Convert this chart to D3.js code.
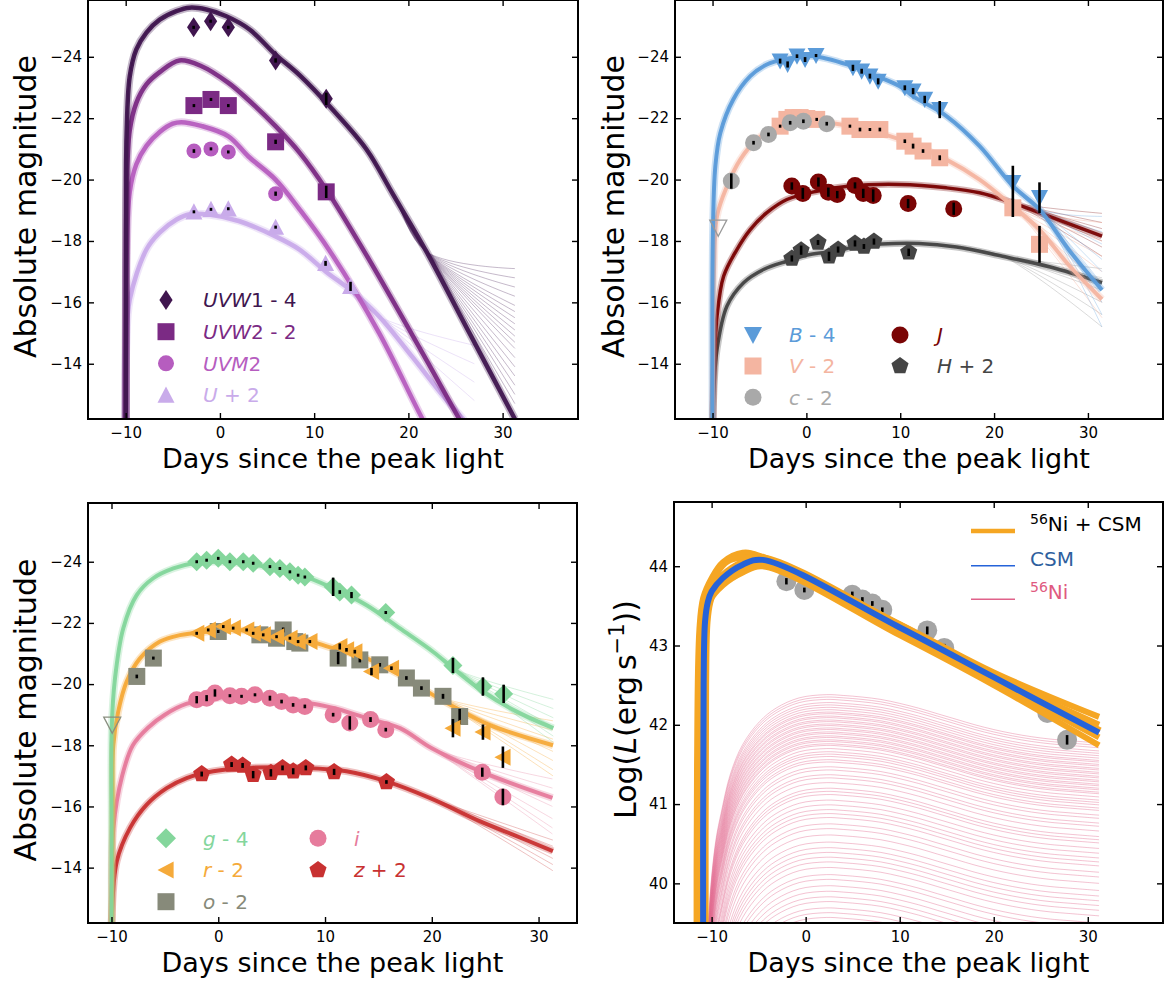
<!DOCTYPE html>
<html><head><meta charset="utf-8">
<script src="https://cdn.jsdelivr.net/npm/d3@7"></script>
<style>body{margin:0;background:#fff}svg{display:block}text{font-family:"DejaVu Sans",sans-serif}</style>
</head><body><svg id="c" width="1169" height="985"></svg>
<script>
// ---------------- DATA ----------------
const magTicks = [-24, -22, -20, -18, -16, -14];
const dayTicks = [-10, 0, 10, 20, 30];
const lumTicks = [40, 41, 42, 43, 44];

// Panel 1 : UV bands  [day, mag, err]
const uvw1Points = [[-2.79,-24.96,0.05],[-0.99,-25.16,0.05],[0.89,-24.96,0.05],[5.91,-23.88,0.07],[11.28,-22.63,0.2]];
const uvw2Points = [[-2.76,-22.41,0.05],[-0.95,-22.61,0.05],[0.89,-22.41,0.05],[5.91,-21.23,0.07],[11.28,-19.6,0.2]];
const uvm2Points = [[-2.76,-20.93,0.06],[-0.95,-21.0,0.05],[0.89,-20.9,0.05],[5.91,-19.54,0.07]];
const uPoints    = [[-2.76,-18.95,0.04],[-0.95,-19.03,0.04],[0.89,-19.05,0.04],[5.91,-18.45,0.05],[11.21,-17.27,0.08],[13.86,-16.52,0.15]];
const uvw1Model = [[-10,-10.5],[-9.95,-19.5],[-9.9,-21.5],[-9.57,-23.36],[-8.87,-24.24],[-7.8,-24.79],[-6.39,-25.21],[-4.62,-25.49],[-3.21,-25.6],[-1.44,-25.54],[0.68,-25.32],[3.15,-24.89],[5.9,-24.07],[8.45,-23.4],[11.95,-22.28],[15.56,-20.98],[18.31,-19.55],[21.92,-17.65],[26.48,-15.0],[31.3,-12.2]];
const uvw2Model = [[-10,-10.5],[-9.95,-17.5],[-9.9,-19.6],[-9.57,-21.6],[-8.87,-22.5],[-7.8,-23.1],[-6.39,-23.5],[-4.3,-23.88],[-2,-23.7],[0.9,-23.15],[3,-22.6],[5.9,-21.74],[8.45,-20.88],[11.28,-19.68],[15.2,-17.72],[20.3,-15.0],[25.4,-12.2],[27,-11.3]];
const uvm2Model = [[-10,-10.5],[-9.95,-15.5],[-9.9,-17.5],[-9.57,-19.6],[-8.87,-20.5],[-7.8,-21.1],[-6.39,-21.55],[-5,-21.82],[-4.1,-21.87],[-2,-21.75],[0.9,-21.41],[3,-20.76],[5.9,-20.0],[8.45,-19.03],[11.6,-17.7],[16.9,-15.0],[21.5,-12.2],[23,-11.4]];
const uModel    = [[-10,-10.5],[-9.95,-14.5],[-9.57,-16.09],[-7.8,-17.72],[-6.4,-18.27],[-4.6,-18.7],[-3.2,-18.87],[-1,-18.85],[2,-18.65],[5.9,-18.15],[8.45,-17.72],[11.25,-17.0],[14.07,-16.35],[16.9,-15.54],[20.4,-14.23],[24,-12.83],[25.8,-12.2],[27,-11.7]];
const uvw1FanEnds = [-17.1,-16.8,-16.5,-16.2,-15.9,-15.7,-15.5,-15.3,-15.1,-14.9,-14.7,-14.5,-14.2,-13.9,-13.6,-13.3,-13.0,-12.7];
const uFanEnds    = [-14.6,-14.0,-13.4,-12.8];

// Panel 2 : optical / NIR
const bPoints = [[-2.8,-23.86,0.08],[-2.0,-23.75,0.1],[-1.0,-24.02,0.06],[-0.14,-23.91,0.08],[1.03,-24.04,0.05],[4.96,-23.64,0.1],[5.89,-23.53,0.08],[6.77,-23.37,0.08],[7.65,-23.2,0.1],[10.49,-22.99,0.08],[11.37,-22.88,0.1],[12.61,-22.61,0.12],[14.21,-22.28,0.28],[22.0,-19.9,0.55],[24.84,-19.41,0.5]];
const vPoints = [[-2.8,-21.74,0.05],[-2.08,-21.96,0.05],[-1.41,-22.02,0.05],[-0.67,-22.02,0.05],[0.04,-21.99,0.05],[1.1,-21.96,0.05],[4.64,-21.74,0.05],[5.71,-21.63,0.06],[6.77,-21.63,0.05],[7.83,-21.63,0.06],[10.49,-21.25,0.06],[11.37,-21.09,0.08],[12.43,-20.93,0.06],[14.21,-20.71,0.08],[22.0,-19.08,0.3],[24.84,-17.89,0.6]];
const cPoints = [[-8.0,-19.95,0.25],[-5.63,-21.2,0.06],[-4.04,-21.47,0.06],[-1.73,-21.85,0.06],[-0.32,-21.9,0.06],[2.17,-21.82,0.06]];
const cLimits = [[-9.39,-18.43]];
const jPoints = [[-1.55,-19.79,0.12],[-0.38,-19.55,0.18],[1.28,-19.92,0.15],[2.34,-19.59,0.15],[3.29,-19.51,0.12],[5.18,-19.81,0.1],[6.06,-19.55,0.15],[7.12,-19.48,0.2],[10.84,-19.22,0.15],[15.7,-19.05,0.2]];
const hPoints = [[-1.55,-17.43,0.1],[-0.56,-17.7,0.15],[1.24,-17.95,0.08],[2.41,-17.5,0.15],[3.38,-17.72,0.1],[5.18,-17.92,0.1],[6.13,-17.82,0.08],[7.2,-17.98,0.1],[10.9,-17.63,0.12]];
const bModel = [[-10,-11],[-9.95,-18.5],[-9.7,-20.44],[-9.17,-21.52],[-7.79,-22.61],[-5.98,-23.37],[-4.21,-23.75],[-2.48,-23.91],[0.71,-24.02],[4.64,-23.72],[7.83,-23.33],[9.95,-23.04],[11.34,-22.72],[14.92,-22.07],[18.46,-21.09],[22.0,-19.79],[24.84,-19.03],[28,-17.7],[31.5,-16.4]];
const vModel = [[-10,-11],[-9.95,-14.0],[-9.85,-17.0],[-9.52,-18.81],[-8.46,-19.78],[-7.05,-20.65],[-5.27,-21.31],[-3.15,-21.69],[-0.67,-21.87],[0.71,-21.9],[4.64,-21.74],[9.96,-21.31],[14.92,-20.65],[18.46,-20.0],[22.0,-19.13],[24.84,-18.37],[28,-17.2],[31.5,-16.1]];
const jModel = [[-10,-11],[-9.95,-12.5],[-9.8,-14.2],[-9.52,-15.55],[-8.82,-16.85],[-7.4,-17.72],[-5.98,-18.37],[-4.21,-18.92],[-2.08,-19.35],[1.1,-19.62],[4.64,-19.79],[9.96,-19.84],[14.92,-19.73],[18.46,-19.57],[22.0,-19.24],[24.84,-18.92],[31.5,-18.16]];
const hModel = [[-10,-11],[-9.9,-12.8],[-9.52,-14.47],[-8.46,-15.88],[-6.69,-16.64],[-4.57,-17.07],[-2.08,-17.34],[0.39,-17.56],[3.23,-17.67],[5,-17.8],[8,-17.9],[12,-17.92],[16,-17.8],[20.9,-17.5],[26,-17.15],[31.5,-16.64]];
const bFanEnds = [-18.8,-18.3,-17.9,-17.4,-17.0,-16.6,-16.0,-15.6,-15.2];
const vFanEnds = [-18.6,-18.0,-17.5,-17.0,-16.5,-16.0,-15.5];
const jFanEnds = [-18.9,-18.6,-18.4,-18.0,-17.8,-17.5];
const hFanEnds = [-17.1,-16.8,-16.4,-16.0,-15.6,-15.2];

// Panel 3
const gPoints = [[-2.02,-24.0,0.03],[-1.09,-24.05,0.03],[0,-24.11,0.04],[1.09,-24.0,0.03],[2.34,-24.0,0.03],[3.27,-23.95,0.03],[4.84,-23.84,0.03],[5.77,-23.78,0.03],[6.71,-23.67,0.04],[7.48,-23.56,0.04],[8.11,-23.5,0.04],[10.76,-23.18,0.3],[11.38,-23.01,0.06],[12.48,-22.91,0.1],[15.69,-22.34,0.05],[21.98,-20.61,0.25],[24.79,-19.92,0.3],[26.73,-19.68,0.3]];
const rPoints = [[-2.02,-21.66,0.04],[-0.94,-21.77,0.04],[0.47,-21.88,0.04],[1.4,-21.83,0.04],[2.66,-21.77,0.04],[3.27,-21.66,0.04],[4.21,-21.61,0.04],[5.46,-21.55,0.04],[6.71,-21.5,0.05],[7.48,-21.39,0.05],[8.58,-21.39,0.05],[11.38,-21.23,0.1],[12.01,-21.12,0.06],[12.79,-21.06,0.06],[14.35,-20.41,0.12],[16.22,-20.52,0.06],[21.98,-18.56,0.3],[24.79,-18.43,0.25],[26.66,-17.61,0.35]];
const oPoints = [[-7.63,-20.25,0.06],[-6.08,-20.85,0.05],[0,-21.72,0.05],[3.9,-21.61,0.05],[5.46,-21.5,0.06],[6.08,-21.77,0.08],[7.17,-21.39,0.06],[7.64,-21.34,0.06],[11.23,-20.85,0.2],[13.26,-20.79,0.08],[15.13,-20.63,0.06],[17.62,-20.2,0.06],[19.03,-19.87,0.06],[21.05,-19.6,0.08],[22.61,-18.94,0.25]];
const iPoints = [[-2.02,-19.49,0.12],[-1.09,-19.54,0.1],[-0.31,-19.71,0.12],[1.09,-19.62,0.05],[2.18,-19.6,0.05],[3.44,-19.65,0.05],[4.84,-19.54,0.08],[5.93,-19.43,0.06],[7.01,-19.32,0.06],[8.11,-19.27,0.06],[10.76,-19.0,0.06],[12.32,-18.73,0.22],[14.26,-18.84,0.08],[15.69,-18.51,0.06],[24.73,-17.12,0.15],[26.66,-16.31,0.27]];
const zPoints = [[-1.55,-17.06,0.08],[1.25,-17.37,0.08],[2.28,-17.34,0.08],[3.27,-17.04,0.12],[4.93,-17.1,0.12],[6.02,-17.26,0.08],[7.02,-17.15,0.1],[8.2,-17.26,0.08],[10.85,-17.13,0.1],[15.75,-16.8,0.06]];
const oLimits = [[-9.93,-18.67]];
const gModel = [[-10,-11],[-9.99,-15.0],[-9.98,-18.56],[-9.67,-20.19],[-8.9,-21.82],[-7.64,-22.91],[-6.09,-23.46],[-4.21,-23.78],[-2.34,-23.95],[-0.15,-24.0],[3,-23.92],[7.65,-23.57],[10.77,-23.13],[13.9,-22.58],[17.02,-21.82],[20.14,-21.05],[22.0,-20.52],[24.82,-19.75],[27.95,-19.1],[31.38,-18.56]];
const rModel = [[-10,-11],[-9.9,-16.0],[-9.83,-18.0],[-9.37,-19.1],[-8.58,-20.08],[-7.33,-20.84],[-5.46,-21.39],[-3.59,-21.6],[-1.09,-21.71],[1.4,-21.77],[6.09,-21.6],[7.65,-21.5],[10.77,-21.17],[13.9,-20.84],[17.02,-20.3],[20.14,-19.64],[22.33,-19.21],[25.45,-18.66],[31.35,-18.0]];
const iModel = [[-10,-11],[-9.97,-12.6],[-9.82,-15.3],[-9,-17.0],[-8,-18.0],[-6.5,-18.6],[-5,-19.0],[-3,-19.35],[0,-19.55],[2,-19.6],[5,-19.55],[7.65,-19.43],[10.77,-19.22],[13.9,-18.89],[17.02,-18.56],[20,-17.9],[24.73,-17.12],[31.3,-16.28]];
const zModel = [[-10,-11],[-9.97,-12.4],[-9.5,-14.21],[-8.26,-15.3],[-6.7,-16.06],[-4.83,-16.6],[-2.96,-16.93],[-0.47,-17.15],[2.66,-17.26],[8.27,-17.26],[12.01,-17.15],[15.75,-16.82],[19.8,-16.28],[24.48,-15.52],[27.6,-15.08],[31.34,-14.54]];
const gFanEnds = [-19.5,-19.2,-18.9,-18.6,-18.3,-18.1];
const rFanEnds = [-18.8,-18.5,-18.2,-17.8,-17.5,-17.2,-17.0];
const iFanEnds = [-16.9,-16.6,-16.0,-15.6,-15.3,-15.1];
const zFanEnds = [-14.9,-14.7,-14.3,-14.1,-13.9];

// Panel 4 : bolometric luminosity  [day, logL, err]
const lumPoints = [[-2.05,43.81,0.04],[-0.14,43.7,0.03],[4.96,43.64,0.04],[6.03,43.58,0.03],[7.09,43.53,0.03],[8.15,43.45,0.03],[12.93,43.19,0.05],[14.74,42.97,0.05],[25.7,42.15,0.06],[27.8,41.81,0.06]];
const csmModel = [[-10.9,38.5],[-10.85,42.5],[-10.7,43.3],[-10.4,43.55],[-10.0,43.68],[-8.82,43.85],[-6.7,44.02],[-4.57,44.08],[9.96,43.23],[20,42.6],[31.2,41.9]];
const niCsmUpper = [[-11.6,38.5],[-11.55,41.5],[-11.3,43.2],[-10.9,43.6],[-10,43.85],[-8.8,44.05],[-6.7,44.17],[-4.6,44.12],[10,43.27],[20,42.66],[31.2,42.1]];
const niCsmMid1  = [[-11.4,38.5],[-11.35,41.5],[-11.1,43.25],[-10.6,43.6],[-9.5,43.9],[-8.3,44.06],[-6.7,44.11],[-4.6,44.09],[10,43.24],[20,42.62],[31.2,42.0]];
const niCsmMid2  = [[-11.2,38.5],[-11.1,41.5],[-10.9,43.2],[-10.4,43.55],[-9.2,43.8],[-7.5,43.97],[-4.6,44.05],[10,43.18],[20,42.55],[31.2,41.84]];
const niCsmLower = [[-11.0,38.5],[-10.9,41.5],[-10.6,43.3],[-10.2,43.56],[-8.8,43.76],[-6.7,43.92],[-4.6,44.0],[10,43.13],[20,42.5],[31.2,41.74]];
const niShapeDays  = [-10.8,-10.5,-10.0,-9.5,-9.0,-8.0,-6.7,-4.9,-3.15,-0.68,2.2,4,6,8,10,12,14,16,18,20,22,24,26,28,31.2];
const niShapeDelta = [-4.0,-3.2,-2.3,-1.8,-1.5,-1.0,-0.63,-0.34,-0.17,-0.04,0,-0.01,-0.03,-0.06,-0.11,-0.17,-0.24,-0.31,-0.38,-0.44,-0.49,-0.53,-0.56,-0.58,-0.61];
const niPeakLevels = [42.38,42.35,42.32,42.28,42.25,42.22,42.19,42.16,42.14,42.11,42.09,42.06,42.04,42.01,41.99,41.96,41.94,41.91,41.89,41.86,41.84,41.81,41.79,41.76,41.74,41.70,41.66,41.63,41.60,41.56,41.53,41.47,41.43,41.37,41.33,41.27,41.20,41.16,41.12,41.05,40.99,40.93,40.88,40.83,40.75,40.69,40.61,40.52,40.45,40.39,40.33,40.27,40.20,40.11,40.05,39.97,39.90,39.83,39.77,39.69,39.63,39.57];

// ---------------- DRAWING ----------------
const svg = d3.select('#c');
const FONT = '"DejaVu Sans", sans-serif';
const CURVE = d3.curveCatmullRom.alpha(0.5);

function sym(type, s) {
  switch (type) {
    case 'circle': return `M${s},0A${s},${s} 0 1,1 ${-s},0A${s},${s} 0 1,1 ${s},0Z`;
    case 'square': return `M${-s},${-s}H${s}V${s}H${-s}Z`;
    case 'diamond': return `M0,${-s}L${s},0L0,${s}L${-s},0Z`;
    case 'thindiamond': return `M0,${-s}L${0.66*s},0L0,${s}L${-0.66*s},0Z`;
    case 'triup': return `M0,${-s}L${s},${s*0.9}L${-s},${s*0.9}Z`;
    case 'tridown': return `M0,${s}L${s},${-s*0.9}L${-s},${-s*0.9}Z`;
    case 'trileft': return `M${-s},0L${s*0.9},${-s}L${s*0.9},${s}Z`;
    case 'pentagon': {
      const p = d3.range(5).map(k => { const a = -Math.PI/2 + k*2*Math.PI/5; return [s*Math.cos(a), s*Math.sin(a)]; });
      return 'M' + p.map(q => q.join(',')).join('L') + 'Z';
    }
  }
}

function makePanel(cfg) {
  const x = d3.scaleLinear().domain(cfg.xd).range([cfg.l, cfg.r]);
  const y = d3.scaleLinear().domain(cfg.yd).range([cfg.b, cfg.t]);
  const id = 'clip' + cfg.id;
  svg.append('clipPath').attr('id', id).append('rect')
    .attr('x', cfg.l).attr('y', cfg.t).attr('width', cfg.r - cfg.l).attr('height', cfg.b - cfg.t);
  const plot = svg.append('g').attr('clip-path', `url(#${id})`);
  const line = d3.line().x(d => x(d[0])).y(d => y(d[1])).curve(CURVE);
  return { x, y, plot, line, cfg };
}

function drawFan(P, model, branchDay, ends, color, op) {
  const idx = model.findIndex(d => d[0] >= branchDay);
  const head = model.slice(0, idx + 1);
  const endDay = model[model.length - 1][0];
  ends.forEach(e => {
    P.plot.append('path').attr('d', P.line(head.concat([[endDay, e]])))
      .attr('fill', 'none').attr('stroke', color).attr('stroke-width', 1).attr('stroke-opacity', op);
  });
}

function drawBand(P, model, color, w) {
  P.plot.append('path').attr('d', P.line(model)).attr('fill', 'none')
    .attr('stroke', color).attr('stroke-width', w + 3.5).attr('stroke-opacity', 0.3).attr('stroke-linejoin', 'round');
  P.plot.append('path').attr('d', P.line(model)).attr('fill', 'none')
    .attr('stroke', color).attr('stroke-width', w).attr('stroke-opacity', 0.95).attr('stroke-linejoin', 'round');
}

function drawPoints(P, pts, type, s, color) {
  const g = P.plot.append('g');
  pts.forEach(d => {
    g.append('path').attr('d', sym(type, s)).attr('transform', `translate(${P.x(d[0])},${P.y(d[1])})`).attr('fill', color);
  });
  pts.forEach(d => {
    const y1 = P.y(d[1] - d[2]), y2 = P.y(d[1] + d[2]);
    const cy = P.y(d[1]);
    const h = Math.max(Math.abs(y2 - y1) / 2, 1.5);
    g.append('line').attr('x1', P.x(d[0])).attr('x2', P.x(d[0])).attr('y1', cy - h).attr('y2', cy + h)
      .attr('stroke', '#000').attr('stroke-width', 2.6);
  });
}

function drawAxes(P, yTicks, yFmt) {
  const c = P.cfg;
  const g = svg.append('g');
  const ax = (gen, tr, labels) => {
    const a = g.append('g').attr('transform', tr).call(gen);
    a.select('.domain').remove();
    a.selectAll('.tick line').attr('stroke', '#000').attr('stroke-width', 1.4);
    a.selectAll('text').attr('font-family', FONT).attr('font-size', 15).attr('fill', '#000');
    if (!labels) a.selectAll('text').remove();
    return a;
  };
  ax(d3.axisBottom(P.x).tickValues(dayTicks).tickSizeInner(-6).tickSizeOuter(0).tickPadding(8).tickFormat(d3.format('d')), `translate(0,${c.b})`, true);
  ax(d3.axisTop(P.x).tickValues(dayTicks).tickSizeInner(-6).tickSizeOuter(0), `translate(0,${c.t})`, false);
  ax(d3.axisLeft(P.y).tickValues(yTicks).tickSizeInner(-6).tickSizeOuter(0).tickPadding(6).tickFormat(yFmt), `translate(${c.l},0)`, true);
  ax(d3.axisRight(P.y).tickValues(yTicks).tickSizeInner(-6).tickSizeOuter(0), `translate(${c.r},0)`, false);
  g.append('rect').attr('x', c.l).attr('y', c.t).attr('width', c.r - c.l).attr('height', c.b - c.t)
    .attr('fill', 'none').attr('stroke', '#000').attr('stroke-width', 2);
  g.append('text').attr('x', (c.l + c.r) / 2).attr('y', c.b + 49).attr('text-anchor', 'middle')
    .attr('font-family', FONT).attr('font-size', 27).text('Days since the peak light');
}

function yLabel(P, xpos, build) {
  const c = P.cfg;
  const t = svg.append('text').attr('transform', `translate(${xpos},${(c.t + c.b) / 2 - 3}) rotate(-90)`)
    .attr('text-anchor', 'middle').attr('font-family', FONT).attr('font-size', 30);
  build(t);
}

function legendItem(type, s, color, mx, tx, y, parts) {
  svg.append('path').attr('d', sym(type, s)).attr('transform', `translate(${mx},${y})`).attr('fill', color);
  const t = svg.append('text').attr('x', tx).attr('y', y).attr('dy', '0.36em').attr('font-family', FONT)
    .attr('font-size', 20).attr('fill', color);
  parts.forEach(p => t.append('tspan').attr('font-style', p[1] ? 'italic' : 'normal').text(p[0]));
}

const magFmt = d3.format('d');
const col = { uvw1: '#40164f', uvw2: '#7b2a84', uvm2: '#b65dbf', u: '#c9abea',
  b: '#5b9bd9', v: '#f4b5a1', c: '#a9a9a9', j: '#7a0505', h: '#454545',
  g: '#84d69c', r: '#f5aa3a', o: '#878a7a', i: '#e67b9c', z: '#c83131' };

// ---------- Panel 1 ----------
const C1 = { id: 1, l: 88, r: 578, t: 0, b: 419, xd: [-14, 38], yd: [-12.2, -25.85] };
const P1 = makePanel(C1);
drawFan(P1, uvw1Model, 21.92, uvw1FanEnds, col.uvw1, 0.3);
drawFan(P1, uModel, 16.9, uFanEnds, col.u, 0.35);
drawBand(P1, uModel, col.u, 4.5);
drawBand(P1, uvm2Model, col.uvm2, 4.5);
drawBand(P1, uvw2Model, col.uvw2, 4.5);
drawBand(P1, uvw1Model, col.uvw1, 4.5);
drawPoints(P1, uvw1Points, 'thindiamond', 10, col.uvw1);
drawPoints(P1, uvw2Points, 'square', 8.5, col.uvw2);
drawPoints(P1, uvm2Points, 'circle', 7.5, col.uvm2);
drawPoints(P1, uPoints, 'triup', 8.5, col.u);
drawAxes(P1, magTicks, magFmt);
yLabel(P1, 35.5, t => t.text('Absolute magnitude'));
legendItem('thindiamond', 10, col.uvw1, 166, 203, 300, [['UVW', 1], ['1 - 4', 0]]);
legendItem('square', 8.5, col.uvw2, 166, 203, 331.7, [['UVW', 1], ['2 - 2', 0]]);
legendItem('circle', 8, col.uvm2, 166, 203, 363.3, [['UVM', 1], ['2', 0]]);
legendItem('triup', 8.5, col.u, 166, 203, 395, [['U', 1], [' + 2', 0]]);

// ---------- Panel 2 ----------
const C2 = { id: 2, l: 675, r: 1163, t: 0, b: 419, xd: [-14, 38], yd: [-12.2, -25.85] };
const P2 = makePanel(C2);
drawFan(P2, hModel, 20.9, hFanEnds, col.h, 0.2);
drawFan(P2, jModel, 22.0, jFanEnds, col.j, 0.3);
drawFan(P2, vModel, 22.0, vFanEnds, col.v, 0.4);
drawFan(P2, bModel, 24.84, bFanEnds, col.b, 0.3);
drawBand(P2, hModel, col.h, 3.5);
drawBand(P2, jModel, col.j, 3.5);
drawBand(P2, vModel, col.v, 4);
drawBand(P2, bModel, col.b, 4);
drawPoints(P2, vPoints, 'square', 8.5, col.v);
drawPoints(P2, cPoints, 'circle', 8.5, col.c);
drawPoints(P2, bPoints, 'tridown', 8.5, col.b);
drawPoints(P2, jPoints, 'circle', 8.5, col.j);
drawPoints(P2, hPoints, 'pentagon', 9, col.h);
cLimits.forEach(d => P2.plot.append('path').attr('d', sym('tridown', 8.5))
  .attr('transform', `translate(${P2.x(d[0])},${P2.y(d[1])})`).attr('fill', 'none').attr('stroke', '#999').attr('stroke-width', 1.3));
drawAxes(P2, magTicks, magFmt);
yLabel(P2, 624, t => t.text('Absolute magnitude'));
legendItem('tridown', 9, col.b, 753, 789, 335, [['B', 1], [' - 4', 0]]);
legendItem('square', 8.5, col.v, 753, 789, 366, [['V', 1], [' - 2', 0]]);
legendItem('circle', 8.5, col.c, 753, 789, 397.3, [['c', 1], [' - 2', 0]]);
legendItem('circle', 8.5, col.j, 900, 937, 335, [['J', 1]]);
legendItem('pentagon', 9, col.h, 900, 937, 366, [['H', 1], [' + 2', 0]]);

// ---------- Panel 3 ----------
const C3 = { id: 3, l: 88, r: 577, t: 503, b: 923, xd: [-12.2, 33.6], yd: [-12.19, -25.92] };
const P3 = makePanel(C3);
drawFan(P3, zModel, 19.8, zFanEnds, col.z, 0.3);
drawFan(P3, iModel, 20, iFanEnds, col.i, 0.3);
drawFan(P3, rModel, 20.14, rFanEnds, col.r, 0.35);
drawFan(P3, gModel, 22.0, gFanEnds, col.g, 0.35);
drawBand(P3, zModel, col.z, 4);
drawBand(P3, iModel, col.i, 4);
drawBand(P3, rModel, col.r, 4);
drawBand(P3, gModel, col.g, 4);
drawPoints(P3, gPoints, 'diamond', 9.5, col.g);
drawPoints(P3, oPoints, 'square', 8.5, col.o);
drawPoints(P3, rPoints, 'trileft', 8.5, col.r);
drawPoints(P3, iPoints, 'circle', 8.5, col.i);
drawPoints(P3, zPoints, 'pentagon', 9, col.z);
oLimits.forEach(d => P3.plot.append('path').attr('d', sym('tridown', 8.5))
  .attr('transform', `translate(${P3.x(d[0])},${P3.y(d[1])})`).attr('fill', 'none').attr('stroke', '#8a8f80').attr('stroke-width', 1.3));
drawAxes(P3, magTicks, magFmt);
yLabel(P3, 35.5, t => t.text('Absolute magnitude'));
legendItem('diamond', 10, col.g, 166, 203, 838.3, [['g', 1], [' - 4', 0]]);
legendItem('trileft', 8.5, col.r, 166, 203, 870, [['r', 1], [' - 2', 0]]);
legendItem('square', 8.5, col.o, 166, 203, 901.7, [['o', 1], [' - 2', 0]]);
legendItem('circle', 8.5, col.i, 318, 354, 838.3, [['i', 1]]);
legendItem('pentagon', 9, col.z, 318, 354, 870, [['z', 1], [' + 2', 0]]);

// ---------- Panel 4 ----------
const C4 = { id: 4, l: 674, r: 1163, t: 502, b: 923, xd: [-14, 38], yd: [39.5, 44.81] };
const P4 = makePanel(C4);
const niColor = '#e0628a', csmColor = '#2563d9', niCsmColor = '#f5a623';
niPeakLevels.forEach(L => {
  const pts = niShapeDays.map((t, k) => [t, L + niShapeDelta[k]]);
  P4.plot.append('path').attr('d', P4.line(pts)).attr('fill', 'none').attr('stroke', niColor)
    .attr('stroke-width', 1).attr('stroke-opacity', 0.38);
});
const g4 = P4.plot.append('g');
lumPoints.forEach(d => g4.append('path').attr('d', sym('circle', 10)).attr('transform', `translate(${P4.x(d[0])},${P4.y(d[1])})`).attr('fill', '#a5a5a5'));
lumPoints.forEach(d => g4.append('line').attr('x1', P4.x(d[0])).attr('x2', P4.x(d[0]))
  .attr('y1', P4.y(d[1] - d[2])).attr('y2', P4.y(d[1] + d[2])).attr('stroke', '#000').attr('stroke-width', 2.6));
P4.plot.append('path').attr('d', P4.line(csmModel)).attr('fill', 'none').attr('stroke', niCsmColor).attr('stroke-width', 11).attr('stroke-linejoin', 'round');
[niCsmUpper, niCsmMid1, niCsmMid2, niCsmLower].forEach(m => P4.plot.append('path').attr('d', P4.line(m)).attr('fill', 'none')
  .attr('stroke', niCsmColor).attr('stroke-width', 6).attr('stroke-linejoin', 'round'));
P4.plot.append('path').attr('d', P4.line(csmModel)).attr('fill', 'none').attr('stroke', csmColor).attr('stroke-width', 6).attr('stroke-linejoin', 'round');
drawAxes(P4, lumTicks, d3.format('d'));
yLabel(P4, 636, t => {
  t.append('tspan').text('Log(');
  t.append('tspan').attr('font-style', 'italic').text('L');
  t.append('tspan').text('(erg\u2009s');
  t.append('tspan').attr('font-size', 21).attr('dy', -12).text('\u22121');
  t.append('tspan').attr('dy', 12).text('))');
});
const leg4 = [
  { y: 531, w: 4.5, c: niCsmColor, tc: '#000', parts: [['56', 1], ['Ni + CSM', 0]] },
  { y: 565.7, w: 1.5, c: csmColor, tc: '#2f5f9e', parts: [['CSM', 0]] },
  { y: 599.3, w: 1.5, c: niColor, tc: '#e05a80', parts: [['56', 1], ['Ni', 0]] }
];
leg4.forEach(it => {
  svg.append('line').attr('x1', 971).attr('x2', 1015).attr('y1', it.y).attr('y2', it.y).attr('stroke', it.c).attr('stroke-width', it.w);
  const t = svg.append('text').attr('x', 1030).attr('y', it.y).attr('dy', '0.36em').attr('font-family', FONT).attr('font-size', 20).attr('fill', it.tc);
  it.parts.forEach(p => {
    if (p[1]) t.append('tspan').attr('font-size', 14).attr('dy', -7).text(p[0]);
    else t.append('tspan').attr('dy', it.parts.length > 1 ? 7 : 0).text(p[0]);
  });
});
</script></body></html>
